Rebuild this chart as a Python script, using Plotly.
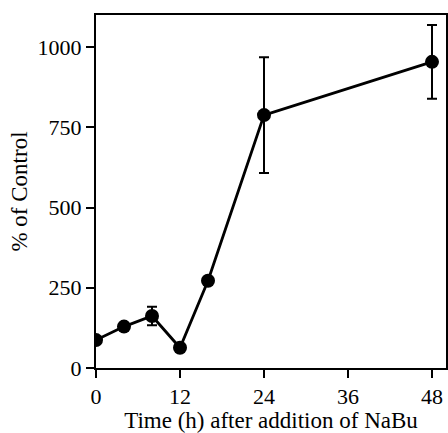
import plotly.graph_objects as go

# Time course after NaBu addition
time_h = [0, 4, 8, 12, 16, 24, 48]
pct_control = [87, 129, 162, 63, 272, 788, 954]
err = [0, 0, 29, 0, 0, 180, 115]

x_ticks = [0, 12, 24, 36, 48]
y_ticks = [0, 250, 500, 750, 1000]

font_family = "Liberation Serif"

fig = go.Figure()
fig.add_trace(go.Scatter(
    x=time_h, y=pct_control,
    mode="lines+markers",
    line=dict(color="black", width=2.8),
    marker=dict(color="black", size=14),
    error_y=dict(type="data", array=err, visible=True,
                 color="black", thickness=2, width=5),
    showlegend=False,
))

axis_common = dict(
    showgrid=False, zeroline=False,
    showline=True, linecolor="black", linewidth=2,
    mirror=True, ticks="outside", ticklen=8, tickwidth=2,
    tickcolor="black",
    tickfont=dict(family=font_family, size=22, color="black"),
    automargin=False,
)

fig.update_layout(
    width=448, height=433,
    margin=dict(l=96, r=2, t=15, b=65),
    paper_bgcolor="white", plot_bgcolor="white",
    font=dict(family=font_family, color="black"),
    xaxis=dict(range=[0, 50], tickvals=x_ticks,
               title=dict(text="Time (h) after addition of NaBu",
                          font=dict(size=23), standoff=1),
               **axis_common),
    yaxis=dict(range=[0, 1100], tickvals=y_ticks,
               title=dict(text="% of Control", font=dict(size=23), standoff=4),
               **axis_common),
)

fig.write_html("out.html")
